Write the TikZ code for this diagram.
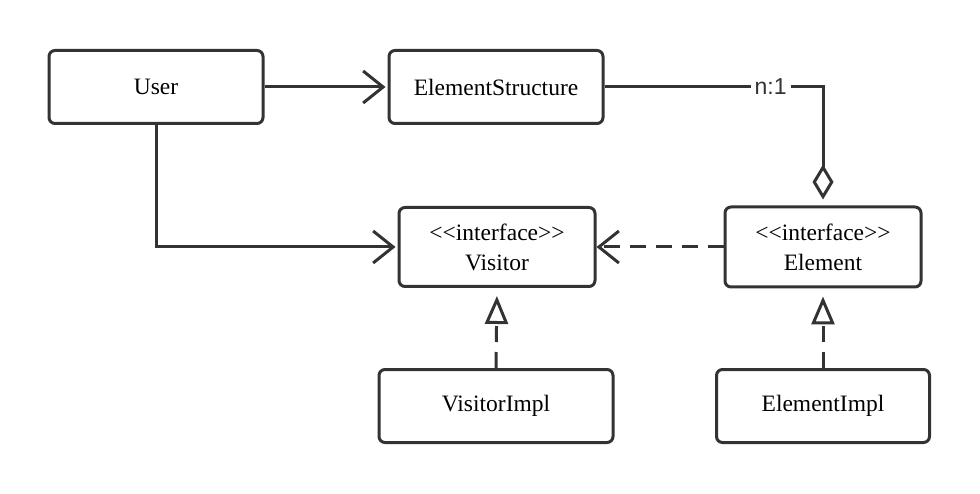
\documentclass[tikz,border=0pt]{standalone}
\usepackage{fontspec}
\setmainfont{Liberation Serif}
\newfontfamily\lblfont{Liberation Sans}
\usetikzlibrary{arrows.meta}
\definecolor{dc}{HTML}{333333}
\tikzset{
  box/.style={draw=dc, line width=3pt, rounded corners=6pt, fill=white,
    font=\rmfamily\fontsize{23.5}{30}\selectfont, align=center, inner sep=0pt,
    text=black},
  conn/.style={draw=dc, line width=3pt},
  barb/.style={-{Straight Barb[length=20pt,width=32pt]}},
  dashpat/.style={dash pattern=on 16pt off 10pt},
  realize/.style={-{Triangle[open,length=28pt,width=23pt]}, shorten >=8pt},
  aggr/.style={-{Diamond[open,length=35pt,width=21pt]}, shorten >=6pt},
  lbl/.style={fill=white, inner xsep=4pt, inner ysep=1pt, text=dc,
    font=\lblfont\fontsize{23}{26}\selectfont}
}
\begin{document}
\begin{tikzpicture}[x=1pt,y=-1pt]
\useasboundingbox (0,0) rectangle (980,494);
\node[box, minimum width=214pt, minimum height=73pt] (user) at (156,87) {User};
\node[box, minimum width=214pt, minimum height=73pt] (es) at (496,87) {ElementStructure};
\node[box, minimum width=196pt, minimum height=79pt] (vis) at (497,247)
  {<\kern0pt<interface>\kern0pt>\\Visitor};
\node[box, minimum width=196pt, minimum height=80pt] (el) at (823,247)
  {<\kern0pt<interface>\kern0pt>\\Element};
\node[box, minimum width=234pt, minimum height=73pt] (vi) at (496,406) {VisitorImpl};
\node[box, minimum width=213pt, minimum height=73pt] (ei) at (823,406) {ElementImpl};

\draw[conn, barb, shorten >=2pt] (user.east) -- (es.west);
\draw[conn, barb, shorten >=2pt] (user.south) |- (vis.west);
\draw[conn, dashpat, barb] (el.west) -- (vis.east);
\draw[conn, aggr] (es.east) -- node[pos=0.76, lbl] (n1) {n:1} (es.east -| el.north) -- (el.north);
\draw[conn, dashpat, realize] (vi.north) -- (vis.south);
\draw[conn, dashpat, realize] (ei.north) -- (el.south);
\end{tikzpicture}
\end{document}
